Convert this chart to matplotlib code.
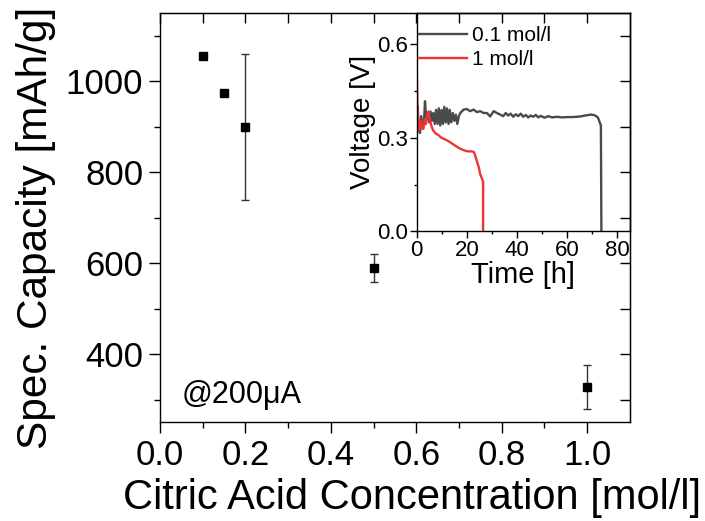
import numpy as np
import matplotlib
matplotlib.use("Agg")
import matplotlib.pyplot as plt
from matplotlib.ticker import MultipleLocator, FixedLocator

plt.rcParams["font.family"] = ["Liberation Sans", "DejaVu Sans"]

# Specific capacity vs. citric acid concentration
conc = [0.1, 0.15, 0.2, 0.5, 1.0]
capacity = [1055, 975, 900, 590, 328]
cap_err = [np.nan, np.nan, 160, 31, 48]

# Discharge curves (inset)
t_low = [0.0, 0.4, 0.8, 1.3, 1.8, 2.4, 2.9, 3.3, 3.8, 4.4, 5.0, 5.5, 6.1, 6.6,
         7.2, 7.7, 8.3, 8.8, 9.4, 9.9, 10.5, 11.0, 11.6, 12.1, 12.7, 13.2,
         13.8, 14.4, 15.0, 15.6, 16.2, 16.8, 17.4, 18.7, 20.0, 21.3, 22.7,
         24.0, 25.3, 26.7, 28.0, 29.3, 30.7, 32.0, 33.3, 34.5, 35.5, 36.5,
         37.5, 38.5, 39.5, 40.5, 41.5, 42.5, 43.5, 44.5, 45.5, 46.5, 47.5,
         48.5, 49.5, 51.0, 52.5, 54.0, 56.0, 58.0, 60.0, 62.0, 64.0, 66.0,
         68.0, 69.5, 71.0, 72.3, 73.5, 73.7]
v_low = [0.31, 0.40, 0.33, 0.316, 0.37, 0.33, 0.35, 0.418, 0.36, 0.38, 0.35,
         0.385, 0.355, 0.38, 0.345, 0.39, 0.345, 0.395, 0.34, 0.39, 0.345,
         0.40, 0.35, 0.395, 0.345, 0.39, 0.35, 0.38, 0.355, 0.375, 0.345,
         0.37, 0.38, 0.391, 0.393, 0.386, 0.391, 0.383, 0.386, 0.380, 0.380,
         0.369, 0.386, 0.380, 0.375, 0.370, 0.380, 0.372, 0.378, 0.368,
         0.376, 0.370, 0.378, 0.368, 0.374, 0.366, 0.372, 0.368, 0.374,
         0.366, 0.371, 0.365, 0.370, 0.366, 0.368, 0.366, 0.367, 0.367,
         0.368, 0.370, 0.373, 0.375, 0.373, 0.366, 0.340, 0.0]
t_high = [0.0, 0.3, 0.7, 1.2, 1.7, 2.2, 2.7, 3.2, 3.7, 4.2, 4.7, 5.2, 5.8,
          6.5, 7.5, 8.5, 10.0, 11.5, 13.0, 14.5, 16.0, 17.5, 19.0, 20.5,
          22.0, 22.8, 23.5, 24.2, 24.8, 25.3, 25.8, 26.3, 26.5, 26.5]
v_high = [0.52, 0.40, 0.325, 0.33, 0.355, 0.33, 0.33, 0.36, 0.345, 0.375,
          0.385, 0.36, 0.34, 0.325, 0.315, 0.31, 0.30, 0.295, 0.288, 0.28,
          0.272, 0.265, 0.26, 0.257, 0.257, 0.255, 0.24, 0.22, 0.205, 0.185,
          0.175, 0.163, 0.16, 0.0]
series_labels = ["0.1 mol/l", "1 mol/l"]

fig = plt.figure(figsize=(7.05, 5.21), dpi=100)
ax = fig.add_axes([0.2270, 0.1894, 0.6662, 0.7851])

ax.errorbar(conc, capacity, yerr=cap_err, fmt="none", ecolor="#333333",
            elinewidth=1.0, capsize=3.0, capthick=1.0, zorder=2)
ax.plot(conc, capacity, ls="none", marker="s", ms=6, color="black", zorder=3)

ax.set_xlim(0, 1.1)
ax.set_ylim(250, 1150)
ax.xaxis.set_major_locator(FixedLocator([0.0, 0.2, 0.4, 0.6, 0.8, 1.0]))
ax.xaxis.set_minor_locator(FixedLocator([0.1, 0.3, 0.5, 0.7, 0.9]))
ax.yaxis.set_major_locator(FixedLocator([400, 600, 800, 1000]))
ax.yaxis.set_minor_locator(FixedLocator([300, 500, 700, 900, 1100]))
ax.tick_params(which="major", direction="out", length=8, width=1.0,
               labelsize=25, pad=4)
ax.tick_params(which="minor", direction="out", length=4.5, width=1.0)
for s in ax.spines.values():
    s.set_linewidth(1.0)

ax.set_xlabel("Citric Acid Concentration [mol/l]", fontsize=30)
ax.set_ylabel("Spec. Capacity [mAh/g]", fontsize=30.5)
ax.xaxis.set_label_coords(0.536, -0.136)
ax.yaxis.set_label_coords(-0.222, 0.475)
ax.text(0.046, 0.0465, "@200\u03bcA", transform=ax.transAxes, fontsize=22,
        va="baseline", ha="left")

# Inward mirror ticks on top and right
top = ax.secondary_xaxis("top")
top.set_xticks(np.arange(0.0, 1.05, 0.1))
top.tick_params(direction="in", length=7, width=1.0, labeltop=False)
top.xaxis.set_minor_locator(FixedLocator([]))
right = ax.secondary_yaxis("right")
right.set_yticks(np.arange(300, 1150, 100))
right.tick_params(direction="in", length=7, width=1.0, labelright=False)
right.yaxis.set_minor_locator(FixedLocator([]))

# Inset: discharge curves
ins = fig.add_axes([0.5911, 0.5557, 0.3021, 0.4188])
ins.patch.set_alpha(0.0)
ins.plot(t_low, v_low, color="#4a4a4a", lw=1.7, label=series_labels[0])
ins.plot(t_high, v_high, color="#ee3535", lw=1.7, label=series_labels[1])
ins.set_xlim(0, 85)
ins.set_ylim(0, 0.7)
ins.xaxis.set_major_locator(MultipleLocator(20))
ins.xaxis.set_minor_locator(FixedLocator([10, 30, 50, 70]))
ins.yaxis.set_major_locator(FixedLocator([0.0, 0.3, 0.6]))
ins.yaxis.set_minor_locator(FixedLocator([0.15, 0.45]))
ins.yaxis.set_major_formatter(plt.FormatStrFormatter("%.1f"))
ins.tick_params(which="major", direction="out", length=5, width=1.0,
                labelsize=16, pad=1)
ins.tick_params(which="minor", direction="out", length=2.5, width=1.0)
for s in ins.spines.values():
    s.set_linewidth(1.0)
ins.set_xlabel("Time [h]", fontsize=21, labelpad=0)
ins.set_ylabel("Voltage [V]", fontsize=20, labelpad=1)
ins.legend(loc="upper left", bbox_to_anchor=(0.0, 0.95), frameon=False,
           fontsize=15, handlelength=2.3, handletextpad=0.25,
           labelspacing=0.25, borderaxespad=0.0, borderpad=0.1)

fig.savefig("out.png", dpi=100)
